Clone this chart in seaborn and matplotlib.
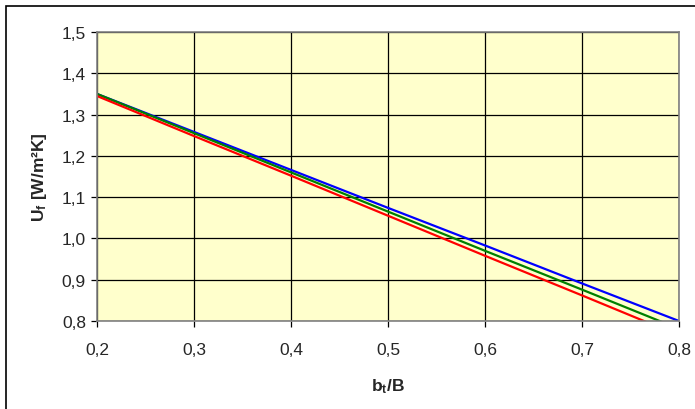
import numpy as np
import pandas as pd
import matplotlib
matplotlib.use("Agg")
import matplotlib.pyplot as plt
from matplotlib.ticker import FuncFormatter, MultipleLocator
from matplotlib.patches import Rectangle
import seaborn as sns

# ── Données ──────────────────────────────────────────────────────────────────
bt_B   = [0.2, 0.3, 0.4, 0.5, 0.6, 0.7, 0.8]
u_blue  = [1.350, 1.258, 1.166, 1.074, 0.983, 0.891, 0.800]
u_green = [1.350, 1.255, 1.160, 1.065, 0.970, 0.876, 0.781]
u_red   = [1.345, 1.248, 1.152, 1.055, 0.958, 0.862, 0.765]
series  = ["blue", "green", "red"]
colors  = ["#0000FF", "#008000", "#FF0000"]

df = pd.DataFrame({
    "x": bt_B * 3,
    "u": u_blue + u_green + u_red,
    "s": np.repeat(series, len(bt_B)),
})

sns.set_style("white")
plt.rcParams["font.family"] = ["Liberation Sans", "DejaVu Sans"]
plt.rcParams["mathtext.fontset"] = "custom"
plt.rcParams["mathtext.rm"] = "Liberation Sans"
plt.rcParams["mathtext.bf"] = "Liberation Sans:bold"

fig = plt.figure(figsize=(6.95, 4.10), dpi=100)
ax = fig.add_axes([97 / 695, 1 - 322 / 410, (679 - 97) / 695, (322 - 33) / 410])
ax.set_facecolor("#FFFFCC")

sns.lineplot(data=df, x="x", y="u", hue="s", palette=dict(zip(series, colors)),
             linewidth=1.6, legend=False, ax=ax)

ax.set_xlim(0.2, 0.8)
ax.set_ylim(0.8, 1.5)
ax.xaxis.set_major_locator(MultipleLocator(0.1))
ax.yaxis.set_major_locator(MultipleLocator(0.1))
fmt = FuncFormatter(lambda v, p: f"{v:.1f}".replace(".", ","))
ax.xaxis.set_major_formatter(fmt)
ax.yaxis.set_major_formatter(fmt)

ax.grid(True, color="black", linewidth=0.9)
ax.set_axisbelow(True)
for sp in ax.spines.values():
    sp.set_color("#808080")
    sp.set_linewidth(1.2)
ax.tick_params(direction="out", length=4, width=0.9, color="black",
               labelsize=12.5, bottom=True, left=True)
ax.tick_params(axis="x", pad=11)
ax.tick_params(axis="y", pad=4)

ax.set_xlabel(r"$\mathbf{b_t}$/B", fontsize=12.5, fontweight="bold", labelpad=14)
ax.set_ylabel(r"$\mathbf{U_f}$ [W/m²K]", fontsize=12.5, fontweight="bold", labelpad=9)

# Cadre extérieur
fig.patches.append(Rectangle((6 / 695, -0.02), 1.05, 1 - 7 / 410 + 0.02,
                             transform=fig.transFigure, fill=False,
                             edgecolor="black", linewidth=1.2))

fig.savefig("out.png", dpi=100)
